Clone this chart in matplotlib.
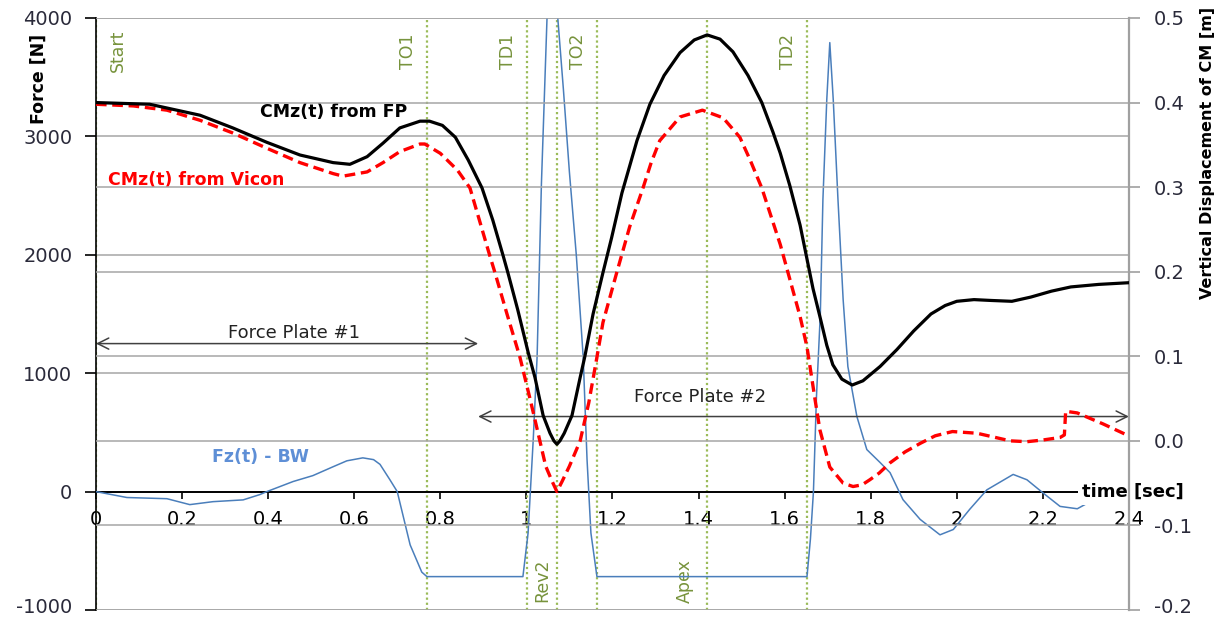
import numpy as np
import matplotlib
matplotlib.use("Agg")
import matplotlib.pyplot as plt
from matplotlib.transforms import ScaledTranslation

# ======================
# DATA
# ======================
# CM vertical displacement from force plate [m]
fp_t = [0, 0.125, 0.242, 0.318, 0.397, 0.474, 0.551, 0.59, 0.63, 0.667, 0.706,
        0.753, 0.775, 0.805, 0.835, 0.865, 0.897, 0.922, 0.946, 0.957, 0.98,
        1.004, 1.020, 1.039, 1.055, 1.064, 1.071, 1.078, 1.088, 1.106, 1.125,
        1.136, 1.155, 1.178, 1.198, 1.222, 1.257, 1.287, 1.32, 1.357, 1.39,
        1.42, 1.45, 1.48, 1.515, 1.547, 1.573, 1.59, 1.612, 1.636, 1.652,
        1.666, 1.682, 1.698, 1.712, 1.733, 1.757, 1.782, 1.822, 1.861, 1.90,
        1.94, 1.973, 2.0, 2.04, 2.08, 2.128, 2.172, 2.22, 2.265, 2.33, 2.40]
fp_z = [0.400, 0.398, 0.385, 0.370, 0.353, 0.338, 0.329, 0.327, 0.336, 0.352, 0.370,
        0.378, 0.378, 0.373, 0.359, 0.332, 0.299, 0.261, 0.219, 0.199, 0.155,
        0.105, 0.075, 0.030, 0.009, 0.000, -0.004, 0.000, 0.009, 0.030, 0.075,
        0.100, 0.150, 0.199, 0.240, 0.293, 0.355, 0.398, 0.432, 0.459, 0.474,
        0.480, 0.475, 0.460, 0.432, 0.400, 0.365, 0.340, 0.302, 0.255, 0.215,
        0.180, 0.147, 0.113, 0.090, 0.073, 0.066, 0.071, 0.088, 0.108, 0.130,
        0.150, 0.160, 0.165, 0.167, 0.166, 0.165, 0.170, 0.177, 0.182, 0.185, 0.187]

# CM vertical displacement from Vicon [m]
vic_t = [0, 0.087, 0.165, 0.242, 0.318, 0.397, 0.474, 0.551, 0.574, 0.63, 0.667,
         0.706, 0.753, 0.764, 0.80, 0.84, 0.869, 0.915, 0.927, 0.955, 0.985,
         1.006, 1.02, 1.045, 1.06, 1.071, 1.083, 1.10, 1.125, 1.145, 1.164,
         1.178, 1.21, 1.24, 1.271, 1.29, 1.31, 1.357, 1.409, 1.457, 1.496,
         1.52, 1.547, 1.59, 1.636, 1.652, 1.671, 1.682, 1.705, 1.736, 1.759,
         1.78, 1.798, 1.82, 1.845, 1.88, 1.915, 1.95, 1.99, 2.047, 2.09,
         2.124, 2.163, 2.20, 2.24, 2.25, 2.253, 2.28, 2.34, 2.395]
vic_z = [0.398, 0.396, 0.391, 0.379, 0.364, 0.346, 0.329, 0.316, 0.313, 0.318, 0.329,
         0.342, 0.351, 0.351, 0.340, 0.320, 0.299, 0.219, 0.199, 0.150, 0.099,
         0.055, 0.025, -0.030, -0.048, -0.060, -0.048, -0.030, 0.000, 0.045, 0.099,
         0.140, 0.199, 0.253, 0.299, 0.329, 0.355, 0.383, 0.391, 0.382, 0.359,
         0.332, 0.299, 0.232, 0.147, 0.111, 0.048, 0.013, -0.031, -0.050, -0.054,
         -0.052, -0.046, -0.038, -0.026, -0.013, -0.003, 0.006, 0.011, 0.009, 0.004,
         0.000, -0.001, 0.001, 0.004, 0.007, 0.035, 0.033, 0.020, 0.007]

# vertical ground reaction force minus body weight [N]
fz_t = [0, 0.072, 0.165, 0.218, 0.272, 0.342, 0.381, 0.397, 0.458, 0.504, 0.551,
        0.583, 0.62, 0.645, 0.66, 0.683, 0.70, 0.713, 0.73, 0.757, 0.769, 0.992,
        1.004, 1.016, 1.025, 1.035, 1.048, 1.06, 1.073, 1.086, 1.10, 1.116, 1.132,
        1.141, 1.150, 1.164, 1.652, 1.660, 1.667, 1.674, 1.683, 1.689, 1.698,
        1.705, 1.713, 1.724, 1.736, 1.747, 1.768, 1.791, 1.822, 1.845, 1.875,
        1.915, 1.961, 1.992, 2.03, 2.07, 2.131, 2.163, 2.20, 2.24, 2.28, 2.31]
fz_f = [0, -50, -60, -110, -85, -70, -25, 0, 85, 135, 210,
        260, 285, 270, 230, 100, 0, -195, -450, -680, -718, -718,
        -350, 440, 1140, 2600, 4000, 4600, 4000, 3400, 2700, 2000, 1140,
        270, -350, -718, -718, -400, 0, 800, 1500, 2466, 3311,
        3792, 3311, 2466, 1622, 1056, 633, 355, 245, 160, -68,
        -235, -365, -320, -150, 15, 145, 100, -10, -125, -145, -85]

# gait events [s]
event_names = ["Start", "TO1", "TD1", "Rev2", "TO2", "Apex", "TD2"]
event_times = [0.0, 0.769, 1.001, 1.071, 1.164, 1.42, 1.652]
event_top = [True, True, True, False, True, False, True]

x_ticks = [0, 0.2, 0.4, 0.6, 0.8, 1.0, 1.2, 1.4, 1.6, 1.8, 2.0, 2.2, 2.4]
x_labels = ["0", "0.2", "0.4", "0.6", "0.8", "1", "1.2", "1.4", "1.6", "1.8", "2", "2.2", "2.4"]
f_ticks = [-1000, 0, 1000, 2000, 3000, 4000]
z_ticks = [-0.2, -0.1, 0.0, 0.1, 0.2, 0.3, 0.4, 0.5]

OLIVE = "#77933C"
GRID = "#a6a6a6"

# ======================
# FIGURE
# ======================
fig = plt.figure(figsize=(12.16, 6.19), dpi=100)
ax = fig.add_axes([0.0789, 0.01454, 0.8495, 0.9564])
ax2 = ax.twinx()

ax.set_xlim(0, 2.4)
ax.set_ylim(-1000, 4000)
ax2.set_ylim(-0.2, 0.5)

ax.set_yticks(f_ticks)
ax.set_yticklabels([str(v) for v in f_ticks])
ax2.set_yticks(z_ticks)
ax2.set_yticklabels([f"{v:.1f}" for v in z_ticks])
ax.set_xticks(x_ticks)
ax.set_xticklabels(x_labels)

ax.yaxis.grid(True, color=GRID, lw=1.1)
ax2.yaxis.grid(True, color=GRID, lw=1.1)
ax.set_axisbelow(True)
ax2.set_axisbelow(True)

for s in ["top", "right"]:
    ax.spines[s].set_visible(False)
ax.spines["left"].set_color("black")
ax.spines["left"].set_linewidth(1.2)
ax.spines["bottom"].set_position(("data", 0))
ax.spines["bottom"].set_linewidth(1.4)
for s in ["top", "bottom", "left"]:
    ax2.spines[s].set_visible(False)
ax2.spines["right"].set_color("#a0a0a0")
ax2.spines["right"].set_linewidth(1.6)

ax.tick_params(axis="x", direction="out", length=5, width=1.2, pad=8, labelsize=14, colors="black")
ax.tick_params(axis="y", direction="out", length=8, width=1.2, pad=9, labelsize=14,
               colors="black", labelcolor="#2a2a3a")
ax2.tick_params(axis="y", direction="out", length=8, width=1.2, pad=10, labelsize=14,
                colors="#a0a0a0", labelcolor="#2a2a3a")

# keep the lowest tick labels inside the picture
for lab in (ax.get_yticklabels()[0], ax2.get_yticklabels()[0]):
    lab.set_transform(lab.get_transform() + ScaledTranslation(0, 3 / 72, fig.dpi_scale_trans))

ax.set_ylabel("Force [N]", fontsize=12.5, fontweight="bold")
ax.yaxis.set_label_coords(-0.047, 0.897)
ax2.set_ylabel("Vertical Displacement of CM [m]", fontsize=11.5, fontweight="bold")
ax2.yaxis.set_label_coords(1.069, 0.772)

# event lines and labels
for name, t, top in zip(event_names, event_times, event_top):
    ax.axvline(t, color="#9BBB59", ls=(0, (1, 1.3)), lw=1.6, zorder=1)
    dx = 22 if name == "Start" else -19
    if name == "Rev2":
        dx = -15
    if name == "Apex":
        dx = -22
    y = 3720 if top else -752
    ax.annotate(name, xy=(t, y), xytext=(dx, 0), textcoords="offset pixels",
                rotation=90, ha="center", va="center", color=OLIVE, fontsize=12.5)

# curves
ax.plot(fz_t, fz_f, color="#4A7EBB", lw=1.1, zorder=3, solid_joinstyle="round")
ax2.plot(vic_t, vic_z, color="#ff0000", lw=2.4, ls=(0, (3.2, 1.7)), zorder=4,
         dash_joinstyle="round")
ax2.plot(fp_t, fp_z, color="black", lw=2.3, zorder=5, solid_joinstyle="round")

# force plate arrows
ax.annotate("", xy=(0, 1250), xytext=(0.888, 1250),
            arrowprops=dict(arrowstyle="<->", color="#404040", lw=1.1,
                            mutation_scale=20, shrinkA=0, shrinkB=0))
ax.text(0.46, 1340, "Force Plate #1", ha="center", va="center", fontsize=13, color="#222222")
ax.annotate("", xy=(0.888, 634), xytext=(2.4, 634),
            arrowprops=dict(arrowstyle="<->", color="#404040", lw=1.1,
                            mutation_scale=20, shrinkA=0, shrinkB=0), annotation_clip=False)
ax.text(1.404, 800, "Force Plate #2", ha="center", va="center", fontsize=13, color="#222222")

# curve labels
ax.text(0.381, 3210, "CMz(t) from FP", ha="left", va="center", fontsize=12.5,
        fontweight="bold", color="black", zorder=6)
ax.text(0.028, 2635, "CMz(t) from Vicon", ha="left", va="center", fontsize=12.5,
        fontweight="bold", color="#ff0000", zorder=6)
ax.text(0.27, 290, "Fz(t) - BW", ha="left", va="center", fontsize=12.5,
        fontweight="bold", color="#5E8FD6", zorder=6)

# x axis title sits on the zero line
ax.text(2.291, 0, "time [sec]", ha="left", va="center", fontsize=13, fontweight="bold",
        color="black", clip_on=False, zorder=10,
        bbox=dict(boxstyle="square,pad=0.25", fc="white", ec="none"))
ax.set_zorder(ax2.get_zorder())

fig.savefig("out.png", dpi=100)
